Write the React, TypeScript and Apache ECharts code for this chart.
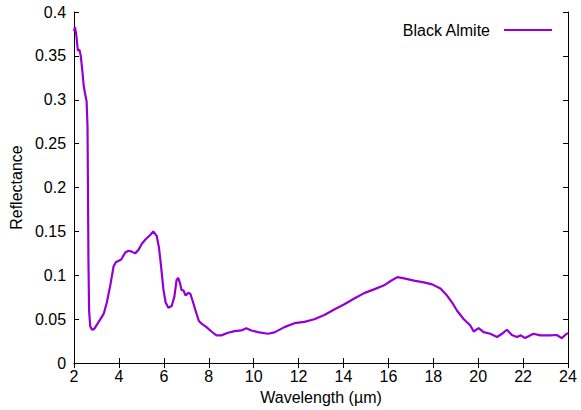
import React, { useEffect, useRef } from "react";
import * as echarts from "echarts";

const seriesName = "Black Almite";
const xAxisName = "Wavelength (µm)";
const yAxisName = "Reflectance";

const wavelength = [
  2.0, 2.04, 2.1, 2.17, 2.24, 2.3, 2.37, 2.43, 2.5, 2.56, 2.6, 2.62, 2.64, 2.67, 2.72, 2.8, 2.9,
  3.09, 3.32, 3.46, 3.61, 3.76, 3.86, 4.1, 4.28, 4.43, 4.57, 4.72, 4.87, 5.02, 5.19, 5.39, 5.53,
  5.68, 5.78, 5.87, 5.98, 6.08, 6.2, 6.35, 6.47, 6.57, 6.64, 6.72, 6.79, 6.87, 6.97, 7.09, 7.18,
  7.28, 7.41, 7.56, 7.68, 7.9, 8.12, 8.34, 8.56, 8.86, 9.15, 9.45, 9.67, 9.9, 10.19, 10.63, 10.93,
  11.37, 11.82, 12.26, 12.7, 13.15, 13.59, 14.04, 14.48, 14.92, 15.36, 15.81, 16.1, 16.4, 16.7,
  17.14, 17.58, 17.95, 18.32, 18.62, 18.84, 19.06, 19.36, 19.65, 19.8, 20.02, 20.24, 20.54, 20.84,
  21.06, 21.28, 21.5, 21.72, 21.9, 22.09, 22.46, 22.76, 23.2, 23.5, 23.72, 23.94, 24.0,
];

const reflectance = [
  0.378, 0.383, 0.374, 0.356, 0.357, 0.35, 0.333, 0.316, 0.306, 0.298, 0.27, 0.2, 0.12, 0.06, 0.042, 0.038, 0.039,
  0.0466, 0.056, 0.069, 0.088, 0.11, 0.115, 0.118, 0.126, 0.128, 0.127, 0.125, 0.129, 0.136, 0.141, 0.146, 0.15,
  0.145, 0.132, 0.112, 0.084, 0.069, 0.063, 0.065, 0.076, 0.095, 0.097, 0.091, 0.083, 0.083, 0.077, 0.08, 0.079,
  0.071, 0.06, 0.048, 0.045, 0.041, 0.036, 0.0316, 0.0316, 0.0346, 0.0364, 0.0372, 0.0398, 0.0372, 0.0353, 0.0334, 0.035,
  0.041, 0.0455, 0.047, 0.05, 0.0548, 0.061, 0.067, 0.0736, 0.0797, 0.084, 0.0886, 0.0935, 0.098, 0.0965,
  0.094, 0.092, 0.0897, 0.0849, 0.0766, 0.069, 0.0597, 0.05, 0.0428, 0.036, 0.0398, 0.0353, 0.0334, 0.0297,
  0.0334, 0.038, 0.032, 0.0297, 0.0316, 0.0285, 0.0334, 0.0316, 0.0316, 0.032, 0.0285, 0.0334, 0.034,
];

const xMin = 2;
const xMax = 24;
const xStep = 2;
const yMin = 0;
const yMax = 0.4;
const yStep = 0.05;

const FONT = "'Liberation Sans', Arial, sans-serif";
const LINE_COLOR = "#9400d3";

export default function App() {
  const ref = useRef<HTMLDivElement>(null);

  useEffect(() => {
    if (!ref.current) return;
    const chart = echarts.init(ref.current, null, { renderer: "svg" });
    const data = wavelength.map((w, i) => [w, reflectance[i]]);
    const axisLine = { show: true, lineStyle: { color: "#000", width: 1 } };
    const tick = { show: true, inside: true, length: 5, lineStyle: { color: "#000" } };
    const labelStyle = { color: "#000", fontFamily: FONT, fontSize: 16 };

    chart.setOption({
      animation: false,
      backgroundColor: "#fff",
      textStyle: { fontFamily: FONT },
      grid: { left: 70, right: 13, top: 12, bottom: 42, containLabel: false },
      legend: {
        data: [seriesName],
        right: 24,
        top: 17,
        align: "right",
        icon: "rect",
        itemWidth: 48,
        itemHeight: 2,
        textStyle: { ...labelStyle, padding: [0, 9, 0, 0] },
      },
      xAxis: [
        {
          type: "value",
          min: xMin,
          max: xMax,
          interval: xStep,
          name: xAxisName,
          nameLocation: "middle",
          nameGap: 22,
          nameTextStyle: labelStyle,
          axisLine,
          axisTick: tick,
          axisLabel: { ...labelStyle, margin: 5 },
          splitLine: { show: false },
        },
        {
          type: "value",
          position: "top",
          min: xMin,
          max: xMax,
          interval: xStep,
          axisLine,
          axisTick: tick,
          axisLabel: { show: false },
          splitLine: { show: false },
        },
      ],
      yAxis: [
        {
          type: "value",
          min: yMin,
          max: yMax,
          interval: yStep,
          name: yAxisName,
          nameLocation: "middle",
          nameGap: 44,
          nameTextStyle: labelStyle,
          axisLine,
          axisTick: tick,
          axisLabel: { ...labelStyle, margin: 8 },
          splitLine: { show: false },
        },
        {
          type: "value",
          position: "right",
          min: yMin,
          max: yMax,
          interval: yStep,
          axisLine,
          axisTick: tick,
          axisLabel: { show: false },
          splitLine: { show: false },
        },
      ],
      series: [
        {
          name: seriesName,
          type: "line",
          data,
          showSymbol: false,
          symbol: "none",
          itemStyle: { color: LINE_COLOR },
          lineStyle: { color: LINE_COLOR, width: 2.2 },
        },
      ],
    });
    return () => chart.dispose();
  }, []);

  return (
    <div
      ref={ref}
      style={{ position: "absolute", left: 0, top: 0, width: 581, height: 410 }}
    />
  );
}
